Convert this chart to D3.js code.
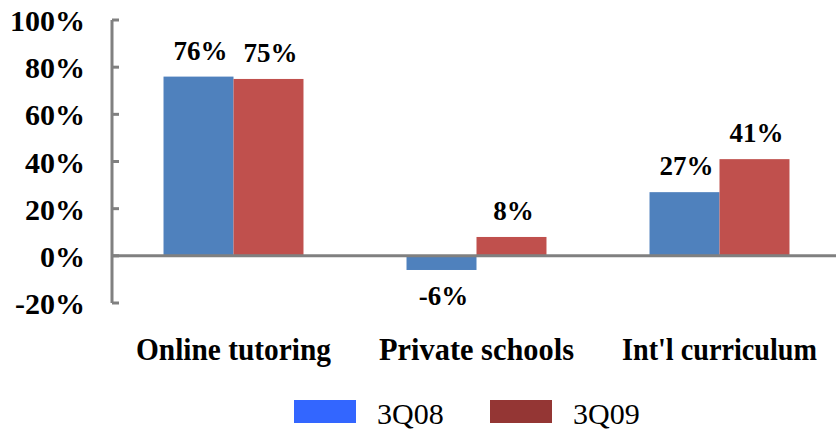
<!DOCTYPE html>
<html>
<head>
<meta charset="utf-8">
<script src="https://cdn.jsdelivr.net/npm/d3@7"></script>
</head>
<body style="margin:0">
<script>
// chart data
var categories = ["Online tutoring", "Private schools", "Int'l curriculum"];
var seriesNames = ["3Q08", "3Q09"];
var values3Q08 = [76, -6, 27];
var values3Q09 = [75, 8, 41];
var yTicks = [-20, 0, 20, 40, 60, 80, 100];

var barColors = ["#4F81BD", "#C0504D"];
var legendColors = ["#3366FF", "#943634"];
var serifFont = "'Liberation Serif', 'Times New Roman', Tinos, serif";

var svgWidth = 836;
var svgHeight = 430;

var svg = d3.select("body")
    .append("svg")
    .attr("width", svgWidth)
    .attr("height", svgHeight);

// scales
var xScale = d3.scaleBand()
    .domain(categories)
    .range([112, 841])
    .paddingInner(0.424)
    .paddingOuter(0.212);

var xInner = d3.scaleBand()
    .domain(seriesNames)
    .range([0, xScale.bandwidth()]);

var yScale = d3.scaleLinear()
    .domain([-20, 100])
    .range([303, 20]);

var rows = categories.map(function (c, i) {
    return { cat: c, vals: [values3Q08[i], values3Q09[i]] };
});

// bars
var groups = svg.selectAll(".grp")
    .data(rows)
    .enter()
    .append("g")
    .attr("transform", d => `translate(${xScale(d.cat)}, 0)`);

groups.selectAll("rect")
    .data(d => d.vals.map((v, j) => ({ v: v, s: seriesNames[j], j: j })))
    .enter()
    .append("rect")
    .attr("x", d => xInner(d.s))
    .attr("width", xInner.bandwidth())
    .attr("y", d => yScale(Math.max(0, d.v)))
    .attr("height", d => Math.abs(yScale(d.v) - yScale(0)))
    .attr("fill", d => barColors[d.j]);

// data labels
groups.selectAll(".lbl")
    .data(d => d.vals.map((v, j) => ({ v: v, s: seriesNames[j], j: j })))
    .enter()
    .append("text")
    .attr("x", d => xInner(d.s) + xInner.bandwidth() / 2 + 2)
    .attr("y", d => d.v >= 0 ? yScale(d.v) - 17 : yScale(d.v) + 35)
    .attr("text-anchor", "middle")
    .style("font", "bold 27px " + serifFont)
    .text(d => d.v + "%");

// y axis
var axisColor = "#808080";
svg.append("line")
    .attr("x1", 112).attr("x2", 112)
    .attr("y1", yScale(-20)).attr("y2", yScale(100))
    .attr("stroke", axisColor).attr("stroke-width", 3);

svg.selectAll(".ytick")
    .data(yTicks)
    .enter()
    .append("line")
    .attr("x1", 112).attr("x2", 119)
    .attr("y1", d => yScale(d)).attr("y2", d => yScale(d))
    .attr("stroke", axisColor).attr("stroke-width", 3);

svg.selectAll(".ylabel")
    .data(yTicks)
    .enter()
    .append("text")
    .attr("x", 85)
    .attr("y", d => yScale(d) + 11)
    .attr("text-anchor", "end")
    .style("font", "bold 30px " + serifFont)
    .text(d => d + "%");

// zero line
svg.append("line")
    .attr("x1", 112).attr("x2", 836)
    .attr("y1", yScale(0)).attr("y2", yScale(0))
    .attr("stroke", axisColor).attr("stroke-width", 3);

// category labels
svg.selectAll(".xlabel")
    .data(categories)
    .enter()
    .append("text")
    .attr("x", d => xScale(d) + xScale.bandwidth() / 2)
    .attr("y", 360)
    .attr("text-anchor", "middle")
    .style("font", "bold 31px " + serifFont)
    .attr("textLength", 195)
    .attr("lengthAdjust", "spacingAndGlyphs")
    .text(d => d);

// legend
var legend = svg.selectAll(".leg")
    .data(seriesNames)
    .enter()
    .append("g")
    .attr("transform", (d, i) => `translate(${294 + i * 196}, 400)`);

legend.append("rect")
    .attr("width", 62)
    .attr("height", 23)
    .attr("fill", (d, i) => legendColors[i]);

legend.append("text")
    .attr("x", 83)
    .attr("y", 24)
    .style("font", "30px " + serifFont)
    .text(d => d);
</script>
</body>
</html>
